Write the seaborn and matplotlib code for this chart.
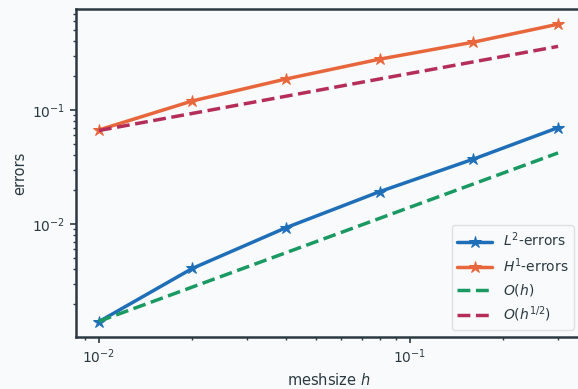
import numpy as np
import pandas as pd
import matplotlib
matplotlib.use("Agg")
import matplotlib.pyplot as plt
import seaborn as sns

# data
h = [0.01, 0.02, 0.04, 0.08, 0.16, 0.30]
l2_errors = [0.00139, 0.00408, 0.00928, 0.0192, 0.0370, 0.0700]
h1_errors = [0.0668, 0.120, 0.187, 0.279, 0.393, 0.565]
o_h = [0.0014, 0.0028, 0.0056, 0.0112, 0.0224, 0.042]
o_h_half = [0.066, 0.0933, 0.132, 0.187, 0.264, 0.361]

labels = [r"$L^2$-errors", r"$H^1$-errors", r"$O(h)$", r"$O(h^{1/2})$"]
colors = ["#1f6fb8", "#e8663c", "#1a9a62", "#b52e5a"]

sns.set_theme(style="ticks")
text_color = "#2b3a42"
plt.rcParams.update({
    "font.family": ["DejaVu Sans"],
    "text.color": text_color,
    "axes.labelcolor": text_color,
    "xtick.color": text_color,
    "ytick.color": text_color,
    "axes.edgecolor": text_color,
})

fig = plt.figure(figsize=(5.78, 3.89), dpi=100)
fig.patch.set_facecolor("#f9fafb")
ax = fig.add_axes([0.1315, 0.1337, 0.874, 0.8433])
ax.set_facecolor("#f9fafb")

df = pd.DataFrame({"h": h, "l2": l2_errors, "h1": h1_errors, "oh": o_h, "ohh": o_h_half})

sns.lineplot(data=df, x="h", y="l2", ax=ax, color=colors[0], marker="*",
             markersize=9, linewidth=2.5, label=labels[0], markeredgecolor=colors[0])
sns.lineplot(data=df, x="h", y="h1", ax=ax, color=colors[1], marker="*",
             markersize=9, linewidth=2.5, label=labels[1], markeredgecolor=colors[1])
sns.lineplot(data=df, x="h", y="oh", ax=ax, color=colors[2], linestyle="--",
             linewidth=2.5, label=labels[2])
sns.lineplot(data=df, x="h", y="ohh", ax=ax, color=colors[3], linestyle="--",
             linewidth=2.5, label=labels[3])

ax.set_xscale("log")
ax.set_yscale("log")
ax.set_xlim(0.00844, 0.356)
ax.set_ylim(0.00102, 0.769)

for s in ax.spines.values():
    s.set_linewidth(1.8)
    s.set_visible(True)

ax.tick_params(which="major", length=4, width=1.2, labelsize=10)
ax.tick_params(which="minor", length=2.5, width=1.0)

ax.set_xlabel(r"meshsize $h$", fontsize=10.5)
ax.set_ylabel("errors", fontsize=10.5)

leg = ax.legend(loc="lower right", fontsize=10, frameon=True, handlelength=2.5)
leg.get_frame().set_facecolor("#f9fafb")
leg.get_frame().set_edgecolor("#d8dadc")

fig.savefig("out.png", dpi=100, facecolor=fig.get_facecolor())
